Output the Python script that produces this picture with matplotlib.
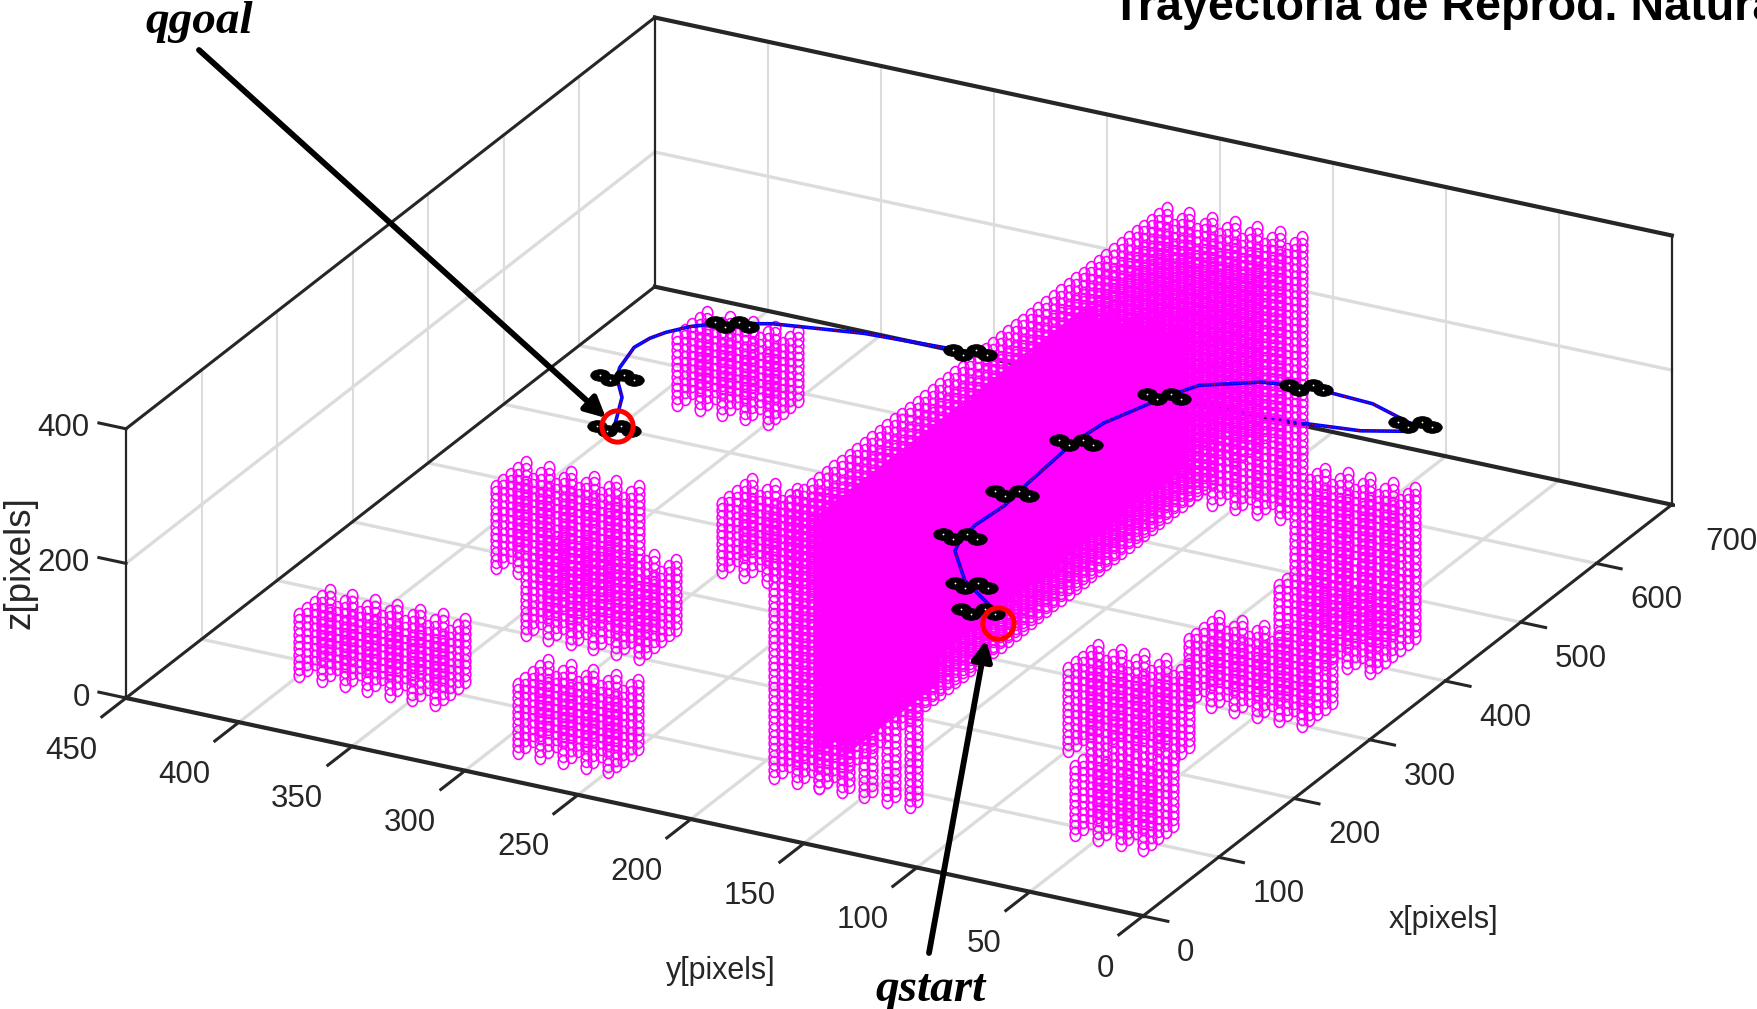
import numpy as np
import matplotlib
matplotlib.use('Agg')
import matplotlib.pyplot as plt
from matplotlib.path import Path
from matplotlib.patches import FancyArrowPatch
from mpl_toolkits.mplot3d import proj3d

W, H = 1758, 1009
DARK = '#262626'
GRIDC = '#dcdcdc'
SANS = 'Liberation Sans'

x_ticks = [0, 100, 200, 300, 400, 500, 600, 700]
y_ticks = [0, 50, 100, 150, 200, 250, 300, 350, 400, 450]
z_ticks = [0, 200, 400]

# obstacles, one entry per box: from, to in each axis
obs_x = [(550, 590), (80, 120), (40, 80), (280, 320), (200, 250), (340, 380), (80, 600), (80, 600),
         (80, 90), (570, 600), (200, 240), (90, 130), (300, 340), (390, 450), (500, 540)]
obs_y = [(350, 390), (340, 400), (250, 290), (330, 380), (290, 340), (260, 300), (130, 190), (170, 190),
         (130, 170), (130, 170), (60, 100), (30, 60), (30, 80), (30, 70), (60, 100)]
obs_z = [(0, 100), (0, 90), (0, 100), (0, 120), (0, 100), (0, 100), (140, 390), (0, 130),
         (0, 130), (0, 130), (0, 120), (0, 100), (0, 90), (0, 100), (0, 120)]

# thick inside of the wall, looks solid on the picture
fill_x = [(115, 470), (115, 230)]
fill_y = [(140, 180), (170, 180)]
fill_z = [(170, 360), (30, 170)]

# flown path, front part then the part behind the wall then the way to the goal
front_x = [163, 156, 123, 110, 117, 137, 176, 196, 266, 307, 388, 433, 500, 551, 618, 651, 677, 662, 663]
front_y = [120, 120, 120, 120, 120, 120, 120, 120, 120, 120, 120, 120, 115, 110, 105, 100, 110, 125, 150]
front_z = [226, 239, 305, 360, 370, 375, 370, 375, 384, 378, 346, 324, 274, 225, 146, 93, 50, 53, 45]

hidden_x = [663, 687, 650, 607, 601]
hidden_y = [150, 185, 200, 260, 280]
hidden_z = [45, 15, 51, 104, 113]

back_x = [601, 588, 572, 543, 531, 520, 514, 508, 504, 500, 507, 500, 496]
back_y = [280, 320, 355, 370, 378, 385, 390, 395, 400, 400, 400, 400, 400]
back_z = [113, 122, 125, 140, 140, 136, 129, 117, 87, 76, 40, 16, 3]

# quadrotor poses
drone_x = [496, 500, 557, 623, 545, 659, 387, 270, 186, 117, 132, 140]
drone_y = [400, 400, 368, 285, 110, 100, 120, 120, 120, 120, 120, 120]
drone_z = [3, 76, 127, 88, 230, 83, 348, 381, 379, 376, 290, 244]

start_point = (167, 120, 203)
goal_point = (500, 400, 3)

fig = plt.figure(figsize=(W / 100, H / 100), dpi=100)
S = 1800
ax = fig.add_axes([0, 0, S / W, S / H], projection='3d', computed_zorder=False)
ax.set_proj_type('ortho')
ax.view_init(elev=24.1, azim=-152.3)
ax.set_box_aspect((1138, 1149, 295))
ax.set_xlim(0, 700, view_margin=0)
ax.set_ylim(0, 450, view_margin=0)
ax.set_zlim(0, 400, view_margin=0)
ax.set_axis_off()


def to_px(x, y, z):
    a, b, _ = proj3d.proj_transform(x, y, z, ax.get_proj())
    return ax.transData.transform((a, b))


# fit the box to the corners measured on the picture
fig.canvas.draw()
d = np.linalg.norm(to_px(0, 450, 0) - to_px(0, 0, 0))
S = S * np.hypot(1017, 218) / d
ax.set_position([0, 0, S / W, S / H])
fig.canvas.draw()
p = to_px(0, 0, 0)
ax.set_position([(1143 - p[0]) / W, ((H - 916) - p[1]) / H, S / W, S / H])
fig.canvas.draw()

# grid
for t in x_ticks[1:-1]:
    ax.plot([t, t], [0, 450], [0, 0], color=GRIDC, lw=2.4, zorder=1)
    ax.plot([t, t], [450, 450], [0, 400], color=GRIDC, lw=1.5, zorder=1)
for t in y_ticks[1:-1]:
    ax.plot([0, 700], [t, t], [0, 0], color=GRIDC, lw=2.4, zorder=1)
    ax.plot([700, 700], [t, t], [0, 400], color=GRIDC, lw=1.5, zorder=1)
ax.plot([0, 700], [450, 450], [200, 200], color=GRIDC, lw=2.4, zorder=1)
ax.plot([700, 700], [0, 450], [200, 200], color=GRIDC, lw=2.4, zorder=1)

# box
for xs, ys, zs, lw in [([0, 0], [0, 450], [0, 0], 3.0),
                       ([0, 700], [0, 0], [0, 0], 2.2),
                       ([0, 700], [450, 450], [0, 0], 2.2),
                       ([700, 700], [0, 450], [0, 0], 3.0),
                       ([0, 700], [450, 450], [400, 400], 2.2),
                       ([700, 700], [0, 450], [400, 400], 3.0),
                       ([0, 0], [450, 450], [0, 400], 1.6),
                       ([700, 700], [450, 450], [0, 400], 1.6),
                       ([700, 700], [0, 0], [0, 400], 1.6)]:
    ax.plot(xs, ys, zs, color=DARK, lw=lw, zorder=2, solid_capstyle='projecting')

# ticks and their labels
for t in x_ticks:
    ax.plot([t, t], [0, -11], [0, 0], color=DARK, lw=2.2, zorder=2)
    ax.text(t, -15, -44, str(t), ha='left', va='center', fontsize=22.5, color=DARK, family=SANS)
for t in y_ticks:
    ax.plot([0, -32], [t, t], [0, 0], color=DARK, lw=2.2, zorder=2)
    ax.text(-38, t, -45, str(t), ha='right', va='center', fontsize=22.5, color=DARK, family=SANS)
for t in z_ticks:
    ax.plot([0, 0], [450, 462], [t, t], color=DARK, lw=2.2, zorder=2)
    ax.text(0, 466, t - 11, str(t), ha='right', va='center', fontsize=22.5, color=DARK, family=SANS)

fig.text(1443 / W, 1 - 920 / H, 'x[pixels]', ha='center', va='center', fontsize=22, color=DARK, family=SANS)
fig.text(721 / W, 1 - 971 / H, 'y[pixels]', ha='center', va='center', fontsize=22, color=DARK, family=SANS)
fig.text(20 / W, 1 - 563 / H, 'z[pixels]', ha='center', va='center', rotation=90, fontsize=26.5, color=DARK,
         family=SANS)

# path behind the wall goes under the obstacles
ax.plot(hidden_x, hidden_y, hidden_z, color='blue', lw=2.0, zorder=2.5)

ring = Path(Path.unit_circle().vertices * [1, 1.3], Path.unit_circle().codes)
for xr, yr, zr in zip(obs_x, obs_y, obs_z):
    gx, gy, gz = np.meshgrid(np.arange(xr[0], xr[1] + 1, 10), np.arange(yr[0], yr[1] + 1, 10),
                             np.arange(zr[0], zr[1] + 1, 10), indexing='ij')
    ax.plot(gx.ravel(), gy.ravel(), gz.ravel(), ls='none', marker=ring, ms=10, mfc='none',
            mec='#ff00ff', mew=1.15, zorder=3)
for xr, yr, zr in zip(fill_x, fill_y, fill_z):
    gx, gy, gz = np.meshgrid(np.arange(xr[0], xr[1] + 1, 5), np.arange(yr[0], yr[1] + 1, 10),
                             np.arange(zr[0], zr[1] + 1, 5), indexing='ij')
    ax.plot(gx.ravel(), gy.ravel(), gz.ravel(), ls='none', marker=ring, ms=10, mfc='none',
            mec='#ff00ff', mew=1.15, zorder=3)

# flown path
for xs, ys, zs in [(front_x, front_y, front_z), (back_x, back_y, back_z)]:
    ax.plot(xs, ys, zs, color='blue', lw=2.6, zorder=4)
    ax.plot(xs, ys, zs, color='red', lw=0.7, ls=':', zorder=4.1)

# quadrotors
rotor = Path(Path.unit_circle().vertices * [1, 0.6], Path.unit_circle().codes)
arms = [(1.5, -7.0), (5.3, -1.3), (-1.5, 7.0), (-5.3, 1.3)]
for x0, y0, z0 in zip(drone_x, drone_y, drone_z):
    for dx, dy in arms:
        ax.plot([x0 + dx], [y0 + dy], [z0], marker=rotor, ms=14, mfc='black', mec='black', mew=0.6, zorder=4.5)
    for dx, dy in arms:
        ax.plot([x0 + dx], [y0 + dy], [z0], marker='o', ms=1.3, mfc='white', mew=0, zorder=4.6)

# start and goal rings
for q in [start_point, goal_point]:
    ax.plot([q[0]], [q[1]], [q[2]], marker='o', ms=22.5, mfc='none', mec='red', mew=3.6, zorder=6)


def fp(px, py):
    return (px / W, 1 - py / H)


# arrows and captions are pasted over the figure
for a, b in [((199, 50), (606, 418)), ((929, 953), (986, 640))]:
    fig.add_artist(FancyArrowPatch(fp(*a), fp(*b), transform=fig.transFigure, arrowstyle='-|>',
                                   mutation_scale=30, lw=4.2, color='black', shrinkA=0, shrinkB=0, zorder=10))

fig.text(*fp(199, 22), 'qgoal', ha='center', va='center', fontsize=34, style='italic', weight='bold',
         family='Liberation Serif')
fig.text(*fp(931, 990), 'qstart', ha='center', va='center', fontsize=34, style='italic', weight='bold',
         family='Liberation Serif')
fig.text(*fp(1112, 20), 'Trayectoria de Reprod. Natural', ha='left', va='baseline', fontsize=33.6,
         weight='bold', family=SANS)

fig.savefig('out.png', dpi=100)
